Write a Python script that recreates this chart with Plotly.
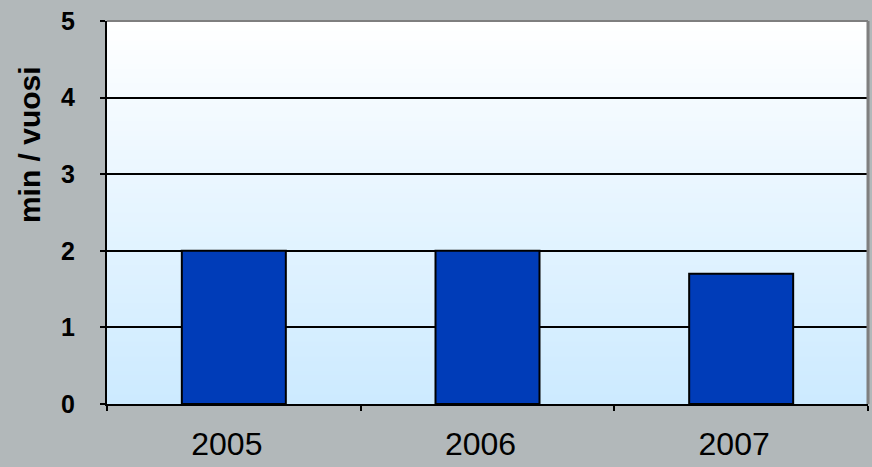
import plotly.graph_objects as go

years = ["2005", "2006", "2007"]
values = [2.0, 2.0, 1.7]
y_ticks = [0, 1, 2, 3, 4, 5]
y_title = "min / vuosi"

fig = go.Figure()
fig.add_trace(go.Bar(
    x=years, y=values,
    marker=dict(color="#003CB8", line=dict(color="black", width=2)),
    width=0.41,
))

# gradient background of plot area (overlapping bands to avoid seams)
shapes = []
n = 80
top = (255, 255, 255)
bot = (204, 234, 255)
for i in range(n):
    t = (i + 0.5) / n
    c = tuple(round(bot[k] + (top[k] - bot[k]) * t) for k in range(3))
    shapes.append(dict(type="rect", xref="x domain", yref="y domain",
                       x0=0, x1=1, y0=i / n, y1=1,
                       fillcolor="rgb(%d,%d,%d)" % c, line=dict(width=0), layer="below"))
# top and right border
shapes.append(dict(type="line", xref="x domain", yref="y domain", x0=0, x1=1, y0=1, y1=1,
                   line=dict(color="#7F7F7F", width=2)))
shapes.append(dict(type="line", xref="x domain", yref="y domain", x0=1, x1=1, y0=0, y1=1,
                   line=dict(color="#7F7F7F", width=3)))

fig.update_layout(
    width=872, height=467,
    margin=dict(l=107, r=4, t=21, b=63),
    paper_bgcolor="#B2B8BA",
    plot_bgcolor="rgba(0,0,0,0)",
    showlegend=False,
    shapes=shapes,
    font=dict(family="Liberation Sans, Arial", color="black"),
    xaxis=dict(
        type="category", tickson="boundaries", ticks="outside", ticklen=5,
        tickcolor="black", tickwidth=1.5, automargin=False,
        showline=True, linecolor="black", linewidth=2,
        showgrid=False, tickfont=dict(size=32), ticklabelstandoff=11,
        ticklabelshift=-7,
    ),
    yaxis=dict(
        range=[0, 5], tickvals=y_ticks, ticks="outside", ticklen=5,
        tickcolor="black", tickwidth=2, automargin=False,
        showline=True, linecolor="black", linewidth=2,
        showgrid=True, gridcolor="black", gridwidth=2, zeroline=False,
        tickfont=dict(size=25, family="Liberation Sans, Arial", weight="bold"),
        ticklabelstandoff=20,
    ),
    annotations=[dict(
        text="<b>%s</b>" % y_title, textangle=-90, showarrow=False,
        xref="paper", yref="paper", x=0, y=0.676, xshift=-78,
        xanchor="center", yanchor="middle", font=dict(size=30),
    )],
)

fig.write_html("out.html", post_script="document.body.style.margin='0';",
               config={"displayModeBar": False})
